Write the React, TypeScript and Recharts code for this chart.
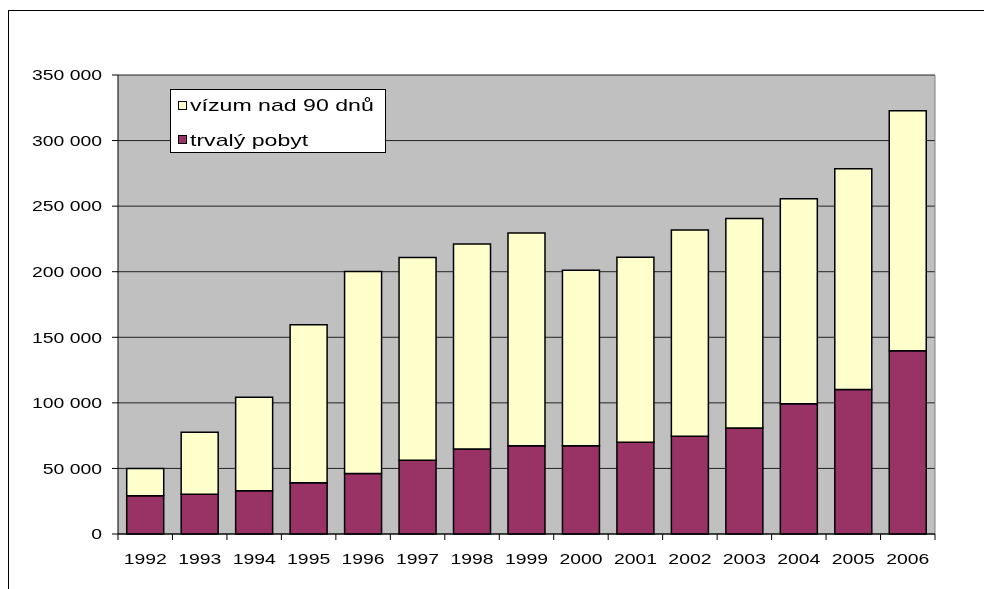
import { BarChart, Bar, XAxis, YAxis, CartesianGrid } from "recharts"

const years = [
  "1992", "1993", "1994", "1995", "1996", "1997", "1998", "1999",
  "2000", "2001", "2002", "2003", "2004", "2005", "2006",
]

// trvalý pobyt (spodní část sloupce)
const trvalyPobyt = [
  29100, 30400, 33000, 39100, 46200, 56200, 64900, 67200,
  67200, 70000, 74600, 80800, 99400, 110200, 139800,
]

// vízum nad 90 dnů (horní část sloupce)
const vizumNad90 = [
  20900, 47100, 71300, 120400, 153900, 154700, 156200, 162300,
  133900, 141100, 157200, 159700, 156200, 168400, 183000,
]

const yTicks = [0, 50000, 100000, 150000, 200000, 250000, 300000, 350000]

const legendItems = [
  { name: "vízum nad 90 dnů", color: "#FFFFCC" },
  { name: "trvalý pobyt", color: "#993366" },
]

const FONT = '"Liberation Sans", Arial, sans-serif'
const STRETCH = 1.25

const fmt = (v: number) => String(v).replace(/\B(?=(\d{3})+(?!\d))/g, " ")

function YTick(props: any) {
  const { x, y, payload } = props
  return (
    <g transform={`translate(${x},${y})`}>
      <text
        transform={`scale(${STRETCH},1)`}
        textAnchor="end"
        dominantBaseline="central"
        fontSize={15.5}
        fontFamily={FONT}
        fill="#000"
      >
        {fmt(payload.value)}
      </text>
    </g>
  )
}

function XTick(props: any) {
  const { x, y, payload, index, visibleTicksCount, width } = props
  const count = visibleTicksCount || years.length
  const band = (width || 817) / count
  return (
    <g>
      <line x1={x - band / 2} x2={x - band / 2} y1={y} y2={y + 6} stroke="#000" />
      {index === count - 1 && (
        <line x1={x + band / 2} x2={x + band / 2} y1={y} y2={y + 6} stroke="#000" />
      )}
      <g transform={`translate(${x},${y + 25})`}>
        <text
          transform={`scale(${STRETCH},1)`}
          textAnchor="middle"
          dominantBaseline="central"
          fontSize={15.5}
          fontFamily={FONT}
          fill="#000"
        >
          {payload.value}
        </text>
      </g>
    </g>
  )
}

export default function App() {
  const data = years.map((year, i) => ({
    year,
    trvaly: trvalyPobyt[i],
    vizum: vizumNad90[i],
  }))

  return (
    <div style={{ position: "relative", width: 968, height: 570, fontFamily: FONT }}>
      <style>{`html, body { overflow: hidden; }`}</style>
      {/* rámeček stránky: jen horní a levá hrana */}
      <div
        style={{
          position: "fixed",
          left: 8,
          top: 10,
          right: 0,
          bottom: 0,
          borderTop: "1px solid #000",
          borderLeft: "1px solid #000",
          pointerEvents: "none",
        }}
      />
      <BarChart
        width={968}
        height={570}
        data={data}
        margin={{ top: 67, right: 41, bottom: 0, left: 0 }}
        barCategoryGap="16%"
      >
        <CartesianGrid vertical={false} stroke="#222" fill="#C0C0C0" fillOpacity={1} />
        <CartesianGrid
          horizontal={false}
          stroke="#808080"
          verticalCoordinatesGenerator={({ offset }: any) => [offset.left + offset.width]}
        />
        <XAxis
          dataKey="year"
          height={44}
          tickLine={false}
          tickSize={0}
          tickMargin={0}
          axisLine={{ stroke: "#000" }}
          tick={<XTick />}
          interval={0}
        />
        <YAxis
          width={110}
          domain={[0, 350000]}
          ticks={yTicks}
          interval={0}
          tickSize={6}
          tickMargin={10}
          axisLine={{ stroke: "#000" }}
          tickLine={{ stroke: "#000" }}
          tick={<YTick />}
        />
        <Bar
          dataKey="trvaly"
          name="trvalý pobyt"
          stackId="a"
          fill="#993366"
          stroke="#000"
          strokeWidth={1.5}
          isAnimationActive={false}
        />
        <Bar
          dataKey="vizum"
          name="vízum nad 90 dnů"
          stackId="a"
          fill="#FFFFCC"
          stroke="#000"
          strokeWidth={1.5}
          isAnimationActive={false}
        />
      </BarChart>
      <div
        style={{
          position: "absolute",
          left: 162,
          top: 81,
          width: 216,
          height: 64,
          boxSizing: "border-box",
          background: "#fff",
          border: "1px solid #000",
        }}
      >
        {legendItems.map((item, i) => {
          const cy = 15 + i * 34.5
          return (
            <div key={item.name}>
              <div
                style={{
                  position: "absolute",
                  left: 7,
                  top: cy - 4.5,
                  width: 9,
                  height: 9,
                  boxSizing: "border-box",
                  background: item.color,
                  border: "1px solid #000",
                }}
              />
              <span
                style={{
                  position: "absolute",
                  left: 19,
                  top: cy,
                  fontSize: 17,
                  lineHeight: 1,
                  whiteSpace: "nowrap",
                  transform: "translateY(-50%) scaleX(1.36)",
                  transformOrigin: "left center",
                }}
              >
                {item.name}
              </span>
            </div>
          )
        })}
      </div>
    </div>
  )
}
